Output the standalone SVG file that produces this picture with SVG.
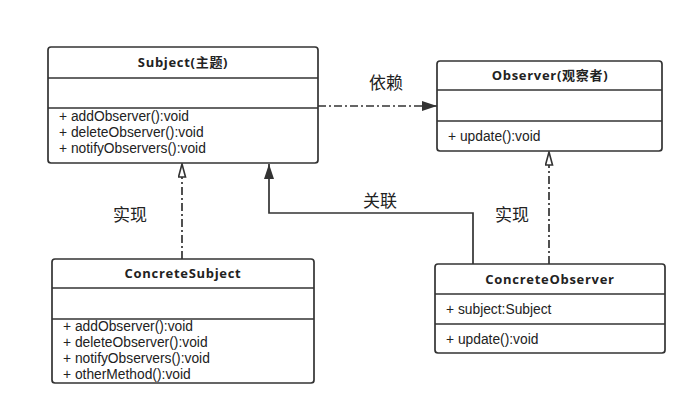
<svg xmlns="http://www.w3.org/2000/svg" width="697" height="415" viewBox="0 0 697 415">
<style>
.box{fill:#fff;stroke:#333;stroke-width:1.7}
.sep{stroke:#333;stroke-width:1.7}
.t{font-family:"Liberation Sans","Noto Sans CJK SC",sans-serif;font-size:13.8px;fill:#222}
.tb{font-family:"Open Sans","Noto Sans CJK SC",sans-serif;font-size:13px;font-weight:bold;fill:#222;text-anchor:middle;letter-spacing:0.7px}
.lbl{font-family:"Noto Sans CJK SC","Open Sans",sans-serif;font-size:17px;fill:#222;text-anchor:middle}
.conn{fill:none;stroke:#333;stroke-width:1.7}
.dd{stroke-dasharray:8,3,2,3}
</style>
<defs>
<marker id="filled" viewBox="0 0 15 10" refX="15" refY="5" markerWidth="15" markerHeight="10" markerUnits="userSpaceOnUse" orient="auto">
<path d="M0,0 L15,5 L0,10 z" fill="#333"/>
</marker>
<marker id="hollow" viewBox="0 0 15 9" refX="14" refY="4.5" markerWidth="15" markerHeight="9" markerUnits="userSpaceOnUse" orient="auto">
<path d="M1,1 L14,4.5 L1,8 z" fill="#fff" stroke="#333" stroke-width="1.6"/>
</marker>
</defs>
<rect width="697" height="415" fill="#fff"/>
<g id="connectors">
<path class="conn dd" d="M318,106 L437,106" marker-end="url(#filled)"/>
<path class="conn" d="M473,264 L473,213 L269,213 L269,164" marker-end="url(#filled)"/>
<path class="conn dd" d="M182,259 L182,164" marker-end="url(#hollow)"/>
<path class="conn dd" d="M549,264 L549,152" marker-end="url(#hollow)"/>
<text class="lbl" x="386" y="89">依赖</text>
<text class="lbl" x="380" y="207">关联</text>
<text class="lbl" x="130" y="221">实现</text>
<text class="lbl" x="512" y="221">实现</text>
</g>
<g id="subject">
<rect class="box" x="48" y="47" width="270" height="116" rx="3"/>
<line class="sep" x1="48" y1="78" x2="318" y2="78"/>
<line class="sep" x1="48" y1="108" x2="318" y2="108"/>
<text class="tb" x="183" y="67">Subject(主题)</text>
<text class="t" x="59" y="121">+ addObserver():void</text>
<text class="t" x="59" y="137">+ deleteObserver():void</text>
<text class="t" x="59" y="153">+ notifyObservers():void</text>
</g>
<g id="observer">
<rect class="box" x="437" y="61" width="225" height="90" rx="3"/>
<line class="sep" x1="437" y1="90" x2="662" y2="90"/>
<line class="sep" x1="437" y1="121" x2="662" y2="121"/>
<text class="tb" x="550" y="80">Observer(观察者)</text>
<text class="t" x="448" y="141">+ update():void</text>
</g>
<g id="concreteSubject">
<rect class="box" x="52" y="259" width="262" height="124" rx="3"/>
<line class="sep" x1="52" y1="288" x2="314" y2="288"/>
<line class="sep" x1="52" y1="319" x2="314" y2="319"/>
<text class="tb" x="183" y="278">ConcreteSubject</text>
<text class="t" x="63" y="331">+ addObserver():void</text>
<text class="t" x="63" y="347">+ deleteObserver():void</text>
<text class="t" x="63" y="363">+ notifyObservers():void</text>
<text class="t" x="63" y="379">+ otherMethod():void</text>
</g>
<g id="concreteObserver">
<rect class="box" x="435" y="264" width="230" height="89" rx="3"/>
<line class="sep" x1="435" y1="294" x2="665" y2="294"/>
<line class="sep" x1="435" y1="324" x2="665" y2="324"/>
<text class="tb" x="550" y="284">ConcreteObserver</text>
<text class="t" x="446" y="314">+ subject:Subject</text>
<text class="t" x="446" y="344">+ update():void</text>
</g>
</svg>
